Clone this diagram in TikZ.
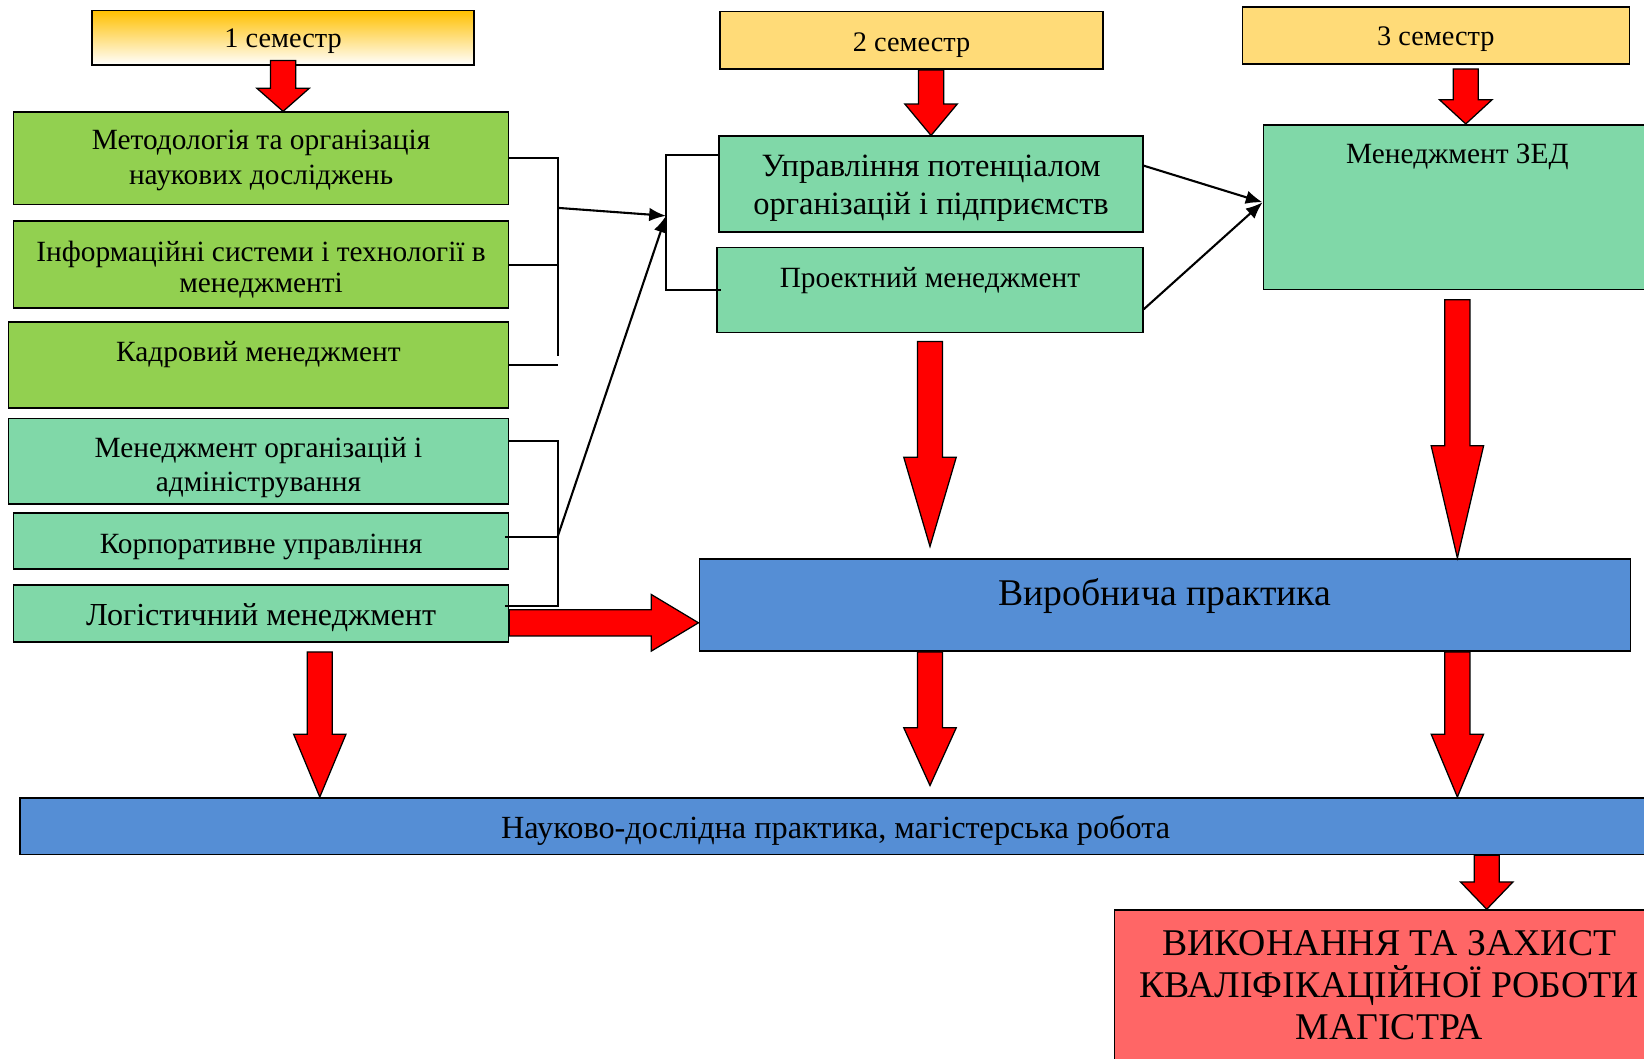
\documentclass[tikz,border=0pt]{standalone}
\usepackage{fontspec}
\setmainfont{Liberation Serif}
\usetikzlibrary{calc,arrows.meta}

\definecolor{lgreen}{RGB}{146,208,80}
\definecolor{lteal}{RGB}{128,216,168}
\definecolor{sblue}{RGB}{85,142,213}
\definecolor{hyellow}{RGB}{255,219,120}
\definecolor{hgold}{RGB}{255,192,0}
\definecolor{lred}{RGB}{255,102,102}

\newcommand{\dn}[1]{\rule{0pt}{\dimexpr0.68em+#1\relax}}
\newcommand{\fatdown}[3]{%
  \path (#1) coordinate (fa1) (#2) coordinate (fa2);
  \draw[fatarrow] ([xshift=-6pt]fa1 -| fa2) -- ([xshift=-6pt,yshift=#3]fa2)
    -- ([xshift=-12.5pt,yshift=#3]fa2) -- (fa2)
    -- ([xshift=12.5pt,yshift=#3]fa2) -- ([xshift=6pt,yshift=#3]fa2)
    -- ([xshift=6pt]fa1 -| fa2) -- cycle;}
\newcommand{\fatright}[3]{%
  \path (#1) coordinate (fa1) (#2) coordinate (fa2);
  \draw[fatarrow] ([yshift=6.25pt]fa1 |- fa2) -- ([xshift=-#3,yshift=6.25pt]fa2)
    -- ([xshift=-#3,yshift=13.5pt]fa2) -- (fa2)
    -- ([xshift=-#3,yshift=-13.5pt]fa2) -- ([xshift=-#3,yshift=-6.25pt]fa2)
    -- ([yshift=-6.25pt]fa1 |- fa2) -- cycle;}

\begin{document}
\begin{tikzpicture}[x=0.5pt,y=-0.5pt,
    blockbox/.style={draw, line width=0.8pt, rectangle, align=center, inner sep=2pt},
    greenbox/.style={blockbox, fill=lgreen},
    tealbox/.style={blockbox, fill=lteal},
    bluebox/.style={blockbox, fill=sblue},
    headbox/.style={blockbox, fill=hyellow, font=\fontsize{13.5}{16}\selectfont},
    wire/.style={line width=1pt},
    conn/.style={line width=1pt, -{Latex[length=8pt,width=6.5pt]}},
    fatarrow/.style={draw=black, line width=0.6pt, fill=red}]
  \useasboundingbox (0,0) rectangle (1568,1010);
  \clip (0,0) rectangle (1568,1010);

  \node[headbox, minimum width=182pt, minimum height=26pt,
    top color=hgold, bottom color=white] (h1) at (270,36) {\dn{3pt}1 семестр};
  \node[headbox, minimum width=182.5pt, minimum height=27.5pt] (h2) at (869.5,38.5) {\dn{4pt}2 семестр};
  \node[headbox, minimum width=184.5pt, minimum height=27pt] (h3) at (1369.5,34) {\dn{3pt}3 семестр};

  \node[greenbox, minimum width=236pt, minimum height=44pt, font=\fontsize{14}{16.5}\selectfont]
    (metod) at (249,151) {\dn{2pt}Методологія та організація\\наукових досліджень};
  \node[greenbox, minimum width=236pt, minimum height=41.5pt, font=\fontsize{14}{15}\selectfont]
    (info) at (249,252.5) {\dn{5pt}Інформаційні системи і технології в\\менеджменті};
  \node[greenbox, minimum width=238.5pt, minimum height=41pt, font=\fontsize{14}{17}\selectfont,
    text depth=13pt] (kadr) at (246.5,348) {Кадровий менеджмент};
  \node[tealbox, minimum width=238.5pt, minimum height=41pt, font=\fontsize{14}{16.5}\selectfont]
    (menorg) at (246.5,440) {\dn{6pt}Менеджмент організацій і\\адміністрування};
  \node[tealbox, minimum width=236pt, minimum height=27pt, font=\fontsize{14}{17}\selectfont]
    (korp) at (249,516) {\dn{5pt}Корпоративне управління};
  \node[tealbox, minimum width=236pt, minimum height=27pt, font=\fontsize{15.3}{18}\selectfont]
    (log) at (249,585) {\dn{4pt}Логістичний менеджмент};

  \node[tealbox, minimum width=202pt, minimum height=45.5pt, font=\fontsize{15.5}{18}\selectfont]
    (upr) at (888,175.5) {\dn{4pt}Управління потенціалом\\організацій і підприємств};
  \node[tealbox, minimum width=203pt, minimum height=40.5pt, font=\fontsize{14}{17}\selectfont,
    text depth=11.5pt] (proj) at (887,276.5) {Проектний менеджмент};
  \node[tealbox, minimum width=185pt, minimum height=78.5pt, font=\fontsize{14}{17}\selectfont,
    text depth=50.5pt] (zed) at (1390,197.5) {Менеджмент ЗЕД};

  \node[bluebox, minimum width=444pt, minimum height=44pt, font=\fontsize{18}{21}\selectfont,
    text depth=12.5pt] (vyr) at (1111,577) {Виробнича практика};
  \node[bluebox, minimum width=778pt, minimum height=27pt, font=\fontsize{15.4}{18}\selectfont]
    (nauk) at (797,788) {\dn{5pt}Науково-дослідна практика, магістерська робота};
  \node[blockbox, fill=lred, minimum width=262pt, minimum height=72pt, font=\fontsize{18}{20}\selectfont]
    (vyk) at (1325,940) {ВИКОНАННЯ ТА ЗАХИСТ\\КВАЛІФІКАЦІЙНОЇ РОБОТИ\\МАГІСТРА};

  \draw[wire] (metod.east) -- ++(46,0) coordinate (b1a) -- ++(0,189) coordinate (b1b);
  \draw[wire] (info.east) -- (info.east -| b1a);
  \draw[wire] (kadr.east) -- (kadr.east -| b1a);
  \draw[wire] ([yshift=13.75pt]upr.west) -- ++(-50,0) coordinate (b3a) |- ([xshift=2pt]proj.west) coordinate (b3b);
  \draw[wire] ([yshift=9.5pt]menorg.east) -- ++(46,0) coordinate (b2a) |- ([xshift=-2pt,yshift=3.5pt]log.east);
  \draw[wire] ([xshift=-2pt,yshift=2pt]korp.east) -- ++(50,0) coordinate (b2m);
  \coordinate (b1m) at ($(b1a)!0.25!(b1b)$);
  \coordinate (b3m) at ($(b3a)!0.45!(b3a |- b3b)$);
  \draw[conn] (b1m) -- (b3m);
  \draw[conn] (b2m) -- (b3m);
  \draw[conn] ([yshift=8.75pt]upr.east) -- ([yshift=2.25pt]zed.west);
  \draw[conn] ([yshift=-9.25pt]proj.east) -- ([yshift=2.25pt]zed.west);

  \fatdown{[yshift=2.5pt]h1.south}{metod.north -| h1.south}{11pt}
  \fatdown{h2.south}{upr.north}{15pt}
  \fatdown{[yshift=-2pt]h3.south}{[xshift=4pt]zed.north}{11.5pt}
  \fatdown{[yshift=-4pt]proj.south}{[yshift=5.5pt]vyr.north -| proj.south}{42.5pt}
  \fatdown{[yshift=-4.5pt]zed.south}{vyr.north -| zed.south}{53.5pt}
  \fatdown{vyr.south}{[yshift=5.5pt]nauk.north -| proj.south}{27.5pt}
  \fatdown{vyr.south}{nauk.north -| zed.south}{30pt}
  \fatdown{[yshift=-4.5pt]log.south}{[xshift=28pt]nauk.north -| log.south}{30pt}
  \fatdown{nauk.south}{[xshift=46.5pt]vyk.north}{13pt}
  \fatright{log.east}{[yshift=-8.5pt]vyr.west}{22.5pt}
\end{tikzpicture}
\end{document}
